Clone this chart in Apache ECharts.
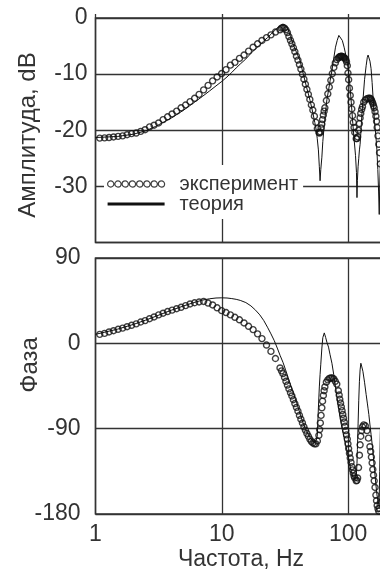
<!DOCTYPE html>
<html><head><meta charset="utf-8">
<script src="https://cdn.jsdelivr.net/npm/echarts@6/dist/echarts.min.js"></script>
<style>html,body{margin:0;padding:0;background:#fff}#c{width:380px;height:577px}</style>
</head><body><div id="c"></div><script>
// ---- data (frequency in Hz, amplitude in dB, phase in degrees) ----
const expFreq = [1.08,1.18,1.28,1.39,1.51,1.64,1.78,1.93,2.1,2.28,2.47,2.68,2.91,3.16,3.43,3.72,4.04,4.39,4.76,5.17,5.61,6.09,6.61,7.18,7.79,8.46,9.18,9.97,10.8,11.7,12.7,13.8,15.0,16.3,17.7,19.2,20.8,22.6,24.5,26.6,28.9,
  29.7,30.5,31.4,32.2,33.1,34.0,35.0,35.9,36.9,37.9,39.0,40.1,41.2,42.3,43.5,44.7,45.9,47.2,48.5,49.8,51.2,52.6,54.1,55.6,57.1,58.7,59.5,60.3,61.1,62.0,62.8,63.7,64.6,65.5,67.3,69.1,71.0,73.0,75.0,77.1,79.2,81.4,83.7,85,86.0,87.2,88.4,89.6,90.8,92,93.3,94.6,95.9,97.2,98.6,99.8,101,102.5,104,105.5,107,108.5,110,111.5,113,116,117.5,119,121,123,124.5,126,128,130,133,137,141,145,149,151,153,155,157,159,161,163.5,166,168,170,172.5,175,177.5,180];
const expAmp = [-21.4,-21.35,-21.3,-21.2,-21.1,-21.0,-20.8,-20.6,-20.5,-20.2,-19.9,-19.4,-19.1,-18.7,-18.1,-17.6,-17.1,-16.6,-16.0,-15.5,-14.9,-14.3,-13.6,-12.8,-12.0,-11.2,-10.5,-9.9,-9.2,-8.4,-7.9,-7.2,-6.6,-5.9,-5.2,-4.6,-4.0,-3.5,-3.0,-2.5,-2.1,
  -1.8,-1.7,-1.8,-2.1,-2.6,-3.3,-4.0,-4.6,-5.3,-6.0,-6.8,-7.5,-8.3,-9.1,-10.0,-10.9,-11.8,-12.7,-13.6,-14.5,-15.5,-16.4,-17.5,-18.6,-19.7,-20.4,-20.5,-20.3,-19.6,-18.9,-18.1,-17.3,-16.6,-16.0,-14.7,-13.5,-12.3,-11.1,-9.9,-8.8,-8.0,-7.4,-7.1,-7.0,-6.9,-6.85,-6.8,-6.85,-6.9,-7.0,-7.1,-7.2,-7.4,-7.8,-8.5,-9.8,-11.0,-12.5,-13.8,-15.0,-16.2,-17.4,-18.6,-19.5,-20.4,-21.5,-21.5,-21.2,-20.0,-18.8,-17.8,-17.0,-16.3,-15.8,-15.0,-14.6,-14.4,-14.3,-14.3,-14.4,-14.6,-14.9,-15.2,-15.6,-16.0,-16.7,-17.5,-18.4,-19.5,-21,-22.5,-24,-26];
const expPhase = [9.5,10.5,12,13.3,14.8,16,17.5,19,20.5,22.5,24,26,27.8,30,31.8,33.5,35,36.5,38,39.8,41.5,42.8,43.6,44.2,42.5,40.5,37.5,34.5,32.5,30,27.5,24.8,21.5,18,14.5,10,5,-1.8,-8.5,-16,-26,
  -29,-32,-36,-40,-44,-48,-52,-55.5,-59.5,-63.5,-67.5,-71.5,-76,-80,-84,-88,-91.5,-95,-98,-101,-103.5,-105,-106,-106,-103,-97,-91,-84,-76,-68,-61,-55,-50,-46,-41,-38.5,-37,-36.5,-36.5,-37.5,-40,-43,-50,-54.5,-59,-63,-67,-71,-75,-79,-83,-87.5,-92,-96.5,-101,-106,-111,-116,-121,-125.5,-130,-133.5,-137,-140,-142,-145,-144.5,-142,-131,-118,-107,-98,-92,-88,-86,-87,-92,-100,-109,-114,-120,-126,-133,-139,-145,-152,-160,-166,-171,-174.5,-177,-174,-168];

const thFreq = [1,1.5,2,2.5,3,3.5,4,5,6,7,8,9,10,11,12,13,14,15.5,17,18.5,20,21.5,23,24.5,26,27.5,29,30.5,32,33.5,35,37,39,41.5,44,47,50,52.5,54.5,56,57,58.2,59.2,60,60.8,62,63.1,64.8,66.5,68,70,72,74.5,77,79.5,82,84.5,87,90,93,96,100,103,106,109,112,114.5,116.5,117.6,118.5,120,121.5,123,124.5,126.2,128,131,135,139,142,144,146,149,152,155,158.5,162,166,169,172,174.5,176.5,178,180,183];
const thAmp = [-21.3,-21.1,-20.7,-20.1,-19.3,-18.5,-17.8,-16.4,-15.1,-14.0,-13.0,-12.1,-11.3,-10.5,-9.7,-8.9,-8.2,-7.3,-6.3,-5.5,-4.8,-4.1,-3.5,-2.9,-2.3,-1.8,-1.35,-1.1,-1.3,-2.0,-3.3,-4.9,-6.1,-7.5,-9.8,-12.4,-14.7,-16.8,-18.6,-20,-21.5,-23.5,-26.5,-29,-27,-24.8,-22,-19,-16.5,-14.5,-12.9,-11.2,-9.4,-7.2,-5.2,-4.0,-3.1,-3.2,-4.0,-5.2,-6.6,-8.9,-11.6,-15.0,-18.8,-22.0,-24.5,-27.5,-32,-29,-26.5,-25,-23.5,-22.5,-20.5,-18,-14.8,-11,-8.5,-7.0,-6.6,-6.8,-7.7,-9.0,-11.5,-15,-18.5,-21,-23.5,-27,-31,-35,-30,-26,-22];
const thPhase = [9.5,15,20,24.5,28.5,32,35,39.5,43,45.5,47,47.8,48,47.8,47.2,46.4,45.3,43,39.5,35,30,24,17,10,3,-5,-13,-20,-28,-36,-43.5,-53,-62,-73.5,-84,-93,-99.5,-103,-105,-102,-98,-68,-46,-33,-22,-5,6,11,6,1,-4,-12,-21,-33,-46,-58,-70,-81,-91,-99.5,-108,-118.5,-127,-135,-140.5,-143.5,-144,-137,-127,-112,-85,-60,-40,-28,-21,-24,-29.5,-41,-54,-63,-69,-75,-86,-96,-106,-119.6,-134,-149,-159,-166,-169,-162,-135,-95,-60];

const ampTicks = [0, -10, -20, -30];
const phaseTicks = [90, 0, -90, -180];
const freqTicks = [1, 10, 100];

const NAME_EXP = 'эксперимент';
const NAME_TH = 'теория';
// ------------------------------------------------------------

const FONT = '"Liberation Sans", Arial, sans-serif';
const TXT = '#333';
const GRID_C = '#333';
const MARK_C = '#111';

const pairs = (xs, ys) => xs.map((x, i) => [x, ys[i]]);

const xAxisBase = (gridIndex, showLabels) => ({
  type: 'log', logBase: 10, min: 1, max: 200, gridIndex,
  position: showLabels ? 'bottom' : 'top',
  axisLine: { show: false },
  axisTick: { show: !showLabels, inside: false, length: 4, lineStyle: { color: GRID_C, width: 1.3 } },
  splitLine: { show: true, lineStyle: { color: GRID_C, width: 1.3 } },
  minorSplitLine: { show: false },
  axisLabel: {
    show: showLabels, fontSize: 23, fontFamily: FONT, color: TXT, margin: 9,
    formatter: v => freqTicks.some(t => Math.abs(t - v) < 1e-6) ? String(v) : ''
  }
});

const circlesPath = 'path://' + Array.from({length: 8}, (_, i) => {
  const cx = 3 + 7 * i;
  return `M${cx - 3},3a3,3 0 1,0 6,0a3,3 0 1,0 -6,0`;
}).join('');

const gridBase = { show: true, borderColor: '#333', borderWidth: 1.5, backgroundColor: 'transparent', outerBoundsMode: 'none', containLabel: false };

const option = {
  animation: false,
  backgroundColor: '#fff',
  grid: [
    Object.assign({ left: 95.5, top: 18, width: 290.6, height: 224.5 }, gridBase),
    Object.assign({ left: 95.5, top: 258, width: 290.6, height: 256 }, gridBase)
  ],
  xAxis: [xAxisBase(0, false), xAxisBase(1, true)],
  yAxis: [
    { type: 'value', gridIndex: 0, min: -40, max: 0, interval: 10,
      axisLine: { show: false }, axisTick: { show: false },
      splitLine: { show: true, lineStyle: { color: GRID_C, width: 1.3 } },
      axisLabel: { fontSize: 23, fontFamily: FONT, color: TXT, margin: 8,
        formatter: v => ampTicks.includes(v) ? String(v) : '' } },
    { type: 'value', gridIndex: 1, min: -180, max: 90, interval: 90,
      axisLine: { show: false }, axisTick: { show: false },
      splitLine: { show: true, lineStyle: { color: GRID_C, width: 1.3 } },
      axisLabel: { fontSize: 23, fontFamily: FONT, color: TXT, margin: 15,
        formatter: v => phaseTicks.includes(v) ? String(v) : '' } }
  ],
  legend: {
    orient: 'vertical', left: 104, top: 165,
    backgroundColor: '#fff', padding: [9, 5, 5, 3],
    itemGap: 0, itemWidth: 57, itemHeight: 8, selectedMode: false,
    textStyle: { fontSize: 20, fontFamily: FONT, color: TXT, lineHeight: 18, padding: [0, 0, 0, 10] },
    data: [
      { name: NAME_EXP, icon: circlesPath, itemStyle: { color: 'rgba(255,255,255,0)', borderColor: MARK_C, borderWidth: 1.2 } },
      { name: NAME_TH, icon: 'path://M0,0H55V3H0Z', itemStyle: { color: '#111', borderWidth: 0 } }
    ]
  },
  graphic: [
    { type: 'text', x: 28, y: 135, rotation: Math.PI / 2,
      style: { text: 'Амплитуда, dB', fontSize: 24, fontFamily: FONT, fill: TXT, align: 'center', verticalAlign: 'middle' } },
    { type: 'text', x: 30, y: 365, rotation: Math.PI / 2,
      style: { text: 'Фаза', fontSize: 24, fontFamily: FONT, fill: TXT, align: 'center', verticalAlign: 'middle' } },
    { type: 'text', x: 241, y: 560,
      style: { text: 'Частота, Hz', fontSize: 23, fontFamily: FONT, fill: TXT, align: 'center', verticalAlign: 'middle' } }
  ],
  series: [
    { name: NAME_EXP, type: 'scatter', xAxisIndex: 0, yAxisIndex: 0, data: pairs(expFreq, expAmp),
      symbol: 'circle', symbolSize: 6, itemStyle: { color: 'rgba(255,255,255,0)', borderColor: MARK_C, borderWidth: 1.4 }, z: 2 },
    { name: NAME_TH, type: 'line', xAxisIndex: 0, yAxisIndex: 0, data: pairs(thFreq, thAmp),
      showSymbol: false, lineStyle: { color: '#111', width: 1 }, itemStyle: { color: '#111' }, z: 3 },
    { name: NAME_EXP, type: 'scatter', xAxisIndex: 1, yAxisIndex: 1, data: pairs(expFreq, expPhase),
      symbol: 'circle', symbolSize: 6, itemStyle: { color: 'rgba(255,255,255,0)', borderColor: MARK_C, borderWidth: 1.4 }, z: 2 },
    { name: NAME_TH, type: 'line', xAxisIndex: 1, yAxisIndex: 1, data: pairs(thFreq, thPhase),
      showSymbol: false, lineStyle: { color: '#111', width: 1 }, itemStyle: { color: '#111' }, z: 3 }
  ]
};

const chart = echarts.init(document.getElementById('c'), null, { renderer: 'canvas' });
chart.setOption(option);
</script></body></html>
